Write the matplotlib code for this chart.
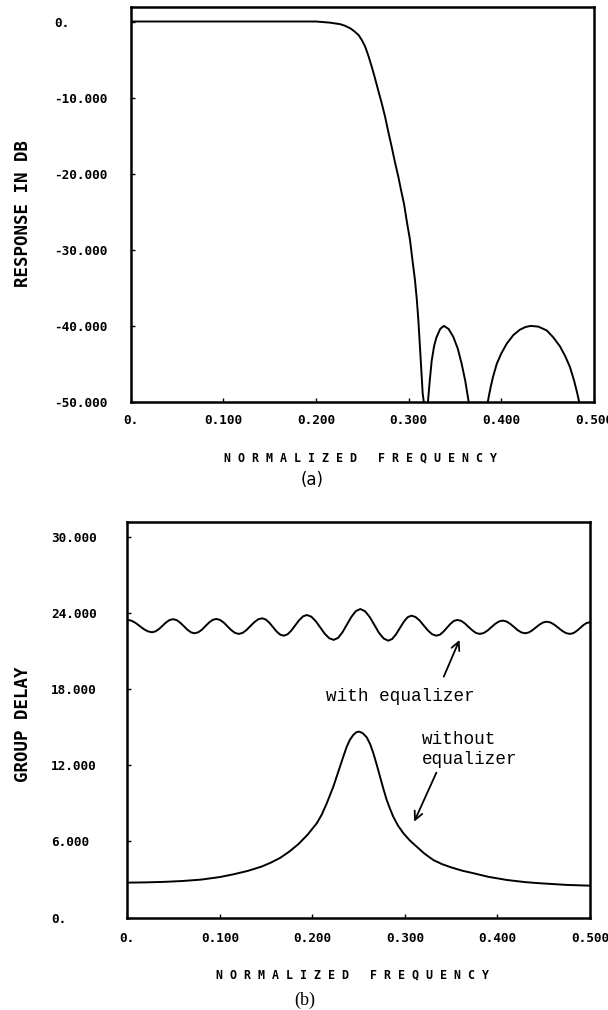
import numpy as np
import matplotlib
matplotlib.use("Agg")
import matplotlib.pyplot as plt

# (a) magnitude response
freq_a = [0.0, 0.05, 0.10, 0.15, 0.20, 0.205, 0.215, 0.226, 0.231, 0.237,
          0.2415, 0.246, 0.2495, 0.253, 0.2565, 0.260, 0.2635, 0.267,
          0.2708, 0.2745, 0.278, 0.2817, 0.285, 0.2888, 0.292, 0.295,
          0.298, 0.3014, 0.304, 0.3068, 0.3088, 0.3104, 0.313, 0.3151,
          0.3172, 0.3188, 0.3202, 0.3225, 0.3248, 0.3275, 0.330, 0.334,
          0.338, 0.343, 0.348, 0.353, 0.357, 0.361, 0.3645, 0.3665, 0.370,
          0.3755, 0.381, 0.385, 0.388, 0.391, 0.395, 0.400, 0.406, 0.413,
          0.420, 0.426, 0.4317, 0.440, 0.449, 0.456, 0.4633, 0.469, 0.474,
          0.4785, 0.482, 0.4845, 0.490, 0.500]
resp_db = [0.0, 0.0, 0.0, 0.0, 0.0, -0.05, -0.15, -0.35, -0.55, -0.9,
           -1.3, -1.8, -2.45, -3.3, -4.5, -5.9, -7.4, -9.0,
           -10.7, -12.5, -14.5, -16.5, -18.4, -20.4, -22.3, -24.0,
           -26.3, -28.7, -31.3, -34.0, -36.6, -39.2, -44.5, -48.9,
           -50.8, -62.0, -50.8, -47.5, -44.6, -42.6, -41.5, -40.4,
           -40.0, -40.4, -41.4, -43.0, -44.9, -47.2, -49.8, -52.0, -57.0,
           -80.0, -57.0, -50.2, -48.3, -46.7, -45.0, -43.6, -42.3, -41.2,
           -40.5, -40.15, -40.0, -40.1, -40.6, -41.5, -42.7, -44.0, -45.4,
           -47.2, -48.9, -50.3, -55.0, -65.0]

# (b) group delay without equalizer
freq_b = [0.000, 0.020, 0.040, 0.060, 0.080, 0.100, 0.115, 0.130, 0.145,
          0.155, 0.165, 0.175, 0.185, 0.195, 0.2047, 0.210, 0.2155, 0.2226,
          0.2298, 0.2335, 0.2371, 0.2405, 0.2442, 0.2475, 0.2507, 0.2545,
          0.2587, 0.2625, 0.2659, 0.2695, 0.2731, 0.2767, 0.2803, 0.2840,
          0.2874, 0.2925, 0.2983, 0.305, 0.3127, 0.321, 0.3307, 0.340,
          0.350, 0.362, 0.374, 0.390, 0.410, 0.430, 0.446, 0.475, 0.500]
delay_plain = [2.76, 2.78, 2.82, 2.89, 3.00, 3.20, 3.42, 3.68, 4.02,
               4.33, 4.70, 5.20, 5.80, 6.55, 7.43, 8.10, 9.00, 10.31,
               11.89, 12.70, 13.46, 14.00, 14.39, 14.60, 14.65, 14.52,
               14.20, 13.65, 12.94, 12.05, 11.10, 10.15, 9.27, 8.55,
               7.95, 7.25, 6.65, 6.10, 5.59, 5.05, 4.54, 4.22,
               3.96, 3.70, 3.50, 3.22, 2.97, 2.80, 2.71, 2.58, 2.52]

# (b) group delay with equalizer (ripple)
freq_eq = [0.0000, 0.0045, 0.0089, 0.0134, 0.0178, 0.0223,
           0.0267, 0.0305, 0.0343, 0.0381, 0.0418, 0.0456,
           0.0494, 0.0533, 0.0572, 0.0611, 0.0650, 0.0689,
           0.0728, 0.0767, 0.0806, 0.0845, 0.0884, 0.0923,
           0.0962, 0.1002, 0.1043, 0.1083, 0.1123, 0.1164,
           0.1204, 0.1246, 0.1288, 0.1330, 0.1372, 0.1414,
           0.1456, 0.1495, 0.1534, 0.1573, 0.1612, 0.1651,
           0.1690, 0.1732, 0.1773, 0.1815, 0.1857, 0.1898,
           0.1940, 0.1988, 0.2037, 0.2085, 0.2133, 0.2182,
           0.2230, 0.2278, 0.2326, 0.2374, 0.2422, 0.2470,
           0.2518, 0.2568, 0.2619, 0.2669, 0.2719, 0.2770,
           0.2820, 0.2862, 0.2903, 0.2945, 0.2987, 0.3028,
           0.3070, 0.3115, 0.3160, 0.3205, 0.3250, 0.3295,
           0.3340, 0.3378, 0.3415, 0.3453, 0.3491, 0.3528,
           0.3566, 0.3607, 0.3647, 0.3688, 0.3729, 0.3769,
           0.3810, 0.3851, 0.3892, 0.3934, 0.3975, 0.4016,
           0.4057, 0.4097, 0.4137, 0.4178, 0.4218, 0.4258,
           0.4298, 0.4337, 0.4376, 0.4415, 0.4454, 0.4493,
           0.4532, 0.4574, 0.4616, 0.4658, 0.4700, 0.4742,
           0.4784, 0.4820, 0.4856, 0.4892, 0.4928, 0.4964,
           0.5000]
delay_eq = [23.45, 23.38, 23.21, 22.96, 22.72, 22.54,
            22.47, 22.54, 22.73, 22.99, 23.24, 23.43,
            23.50, 23.43, 23.22, 22.95, 22.67, 22.46,
            22.39, 22.47, 22.67, 22.96, 23.24, 23.45,
            23.52, 23.44, 23.23, 22.93, 22.64, 22.42,
            22.34, 22.42, 22.65, 22.96, 23.26, 23.49,
            23.57, 23.48, 23.23, 22.89, 22.54, 22.29,
            22.20, 22.31, 22.61, 23.02, 23.42, 23.72,
            23.83, 23.70, 23.34, 22.85, 22.36, 22.00,
            21.87, 22.03, 22.48, 23.09, 23.69, 24.14,
            24.30, 24.13, 23.68, 23.06, 22.43, 21.98,
            21.81, 21.94, 22.30, 22.80, 23.29, 23.65,
            23.78, 23.67, 23.39, 22.99, 22.60, 22.31,
            22.20, 22.28, 22.51, 22.82, 23.13, 23.36,
            23.44, 23.37, 23.17, 22.89, 22.62, 22.41,
            22.34, 22.41, 22.60, 22.87, 23.13, 23.32,
            23.39, 23.32, 23.14, 22.89, 22.64, 22.46,
            22.39, 22.45, 22.62, 22.85, 23.07, 23.24,
            23.30, 23.24, 23.06, 22.82, 22.58, 22.40,
            22.34, 22.40, 22.57, 22.80, 23.03, 23.20,
            23.26]

x_ticks = [0.0, 0.1, 0.2, 0.3, 0.4, 0.5]
x_labels = ["0.", "0.100", "0.200", "0.300", "0.400", "0.500"]
ya_ticks = [0, -10, -20, -30, -40, -50]
ya_labels = ["0.", "-10.000", "-20.000", "-30.000", "-40.000", "-50.000"]
yb_ticks = [0, 6, 12, 18, 24, 30]
yb_labels = ["0.", "6.000", "12.000", "18.000", "24.000", "30.000"]

mono = "DejaVu Sans Mono"
xlabel_text = "N O R M A L I Z E D   F R E Q U E N C Y"

fig = plt.figure(figsize=(6.08, 10.10), dpi=100)
ax1 = fig.add_axes([0.215, 0.602, 0.762, 0.3914])
ax2 = fig.add_axes([0.2094, 0.0914, 0.761, 0.3915])


def style_axes(ax, yticks, ylabels, ylabel, xpad):
    ax.set_xlim(0, 0.5)
    ax.set_xticks(x_ticks)
    ax.set_xticklabels(x_labels, family=mono, weight="bold", fontsize=9.2)
    ax.set_yticks(yticks)
    ax.set_yticklabels(ylabels, family=mono, weight="bold", fontsize=9.2,
                       ha="left")
    ax.tick_params(axis="both", direction="in", length=3, width=1)
    ax.tick_params(axis="y", pad=55)
    ax.tick_params(axis="x", pad=xpad)
    for sp in ax.spines.values():
        sp.set_linewidth(1.8)
    ax.set_ylabel(ylabel, family=mono, weight="bold", fontsize=12.5)
    ax.set_xlabel(xlabel_text, family=mono, weight="bold", fontsize=8.4)
    ax.xaxis.label.set_va("center")
    ax.yaxis.label.set_va("center")


ax1.plot(freq_a, resp_db, color="black", lw=1.4)
ax1.set_ylim(-50, 1.95)
style_axes(ax1, ya_ticks, ya_labels, "RESPONSE IN DB", 9)
ax1.yaxis.set_label_coords(-0.233, 0.478)
ax1.xaxis.set_label_coords(0.497, -0.142)

ax2.plot(freq_eq, delay_eq, color="black", lw=1.4)
ax2.plot(freq_b, delay_plain, color="black", lw=1.4)
ax2.set_ylim(0, 31.13)
style_axes(ax2, yb_ticks, yb_labels, "GROUP DELAY", 10)
ax2.yaxis.set_label_coords(-0.226, 0.49)
ax2.xaxis.set_label_coords(0.486, -0.145)

ax2.text(0.2147, 17.4, "with equalizer", family="Liberation Mono",
         fontsize=12.7, ha="left", va="center")
ax2.text(0.3185, 13.23, "without\nequalizer", family="Liberation Mono",
         fontsize=12.7, ha="left", va="center", linespacing=1.2)
arrow = dict(arrowstyle="->,head_length=0.6,head_width=0.3", color="black",
             lw=1.3, shrinkA=0, shrinkB=0)
ax2.annotate("", xy=(0.359, 21.87), xytext=(0.342, 18.98), arrowprops=arrow)
ax2.annotate("", xy=(0.310, 7.56), xytext=(0.334, 11.42), arrowprops=arrow)

fig.text(312 / 608, 1 - 480 / 1010, "(a)", family="DejaVu Sans",
         fontsize=12, ha="center", va="center")
fig.text(305 / 608, 1 - 1000 / 1010, "(b)", family="Liberation Serif",
         fontsize=13, ha="center", va="center")

fig.savefig("out.png", dpi=100)
